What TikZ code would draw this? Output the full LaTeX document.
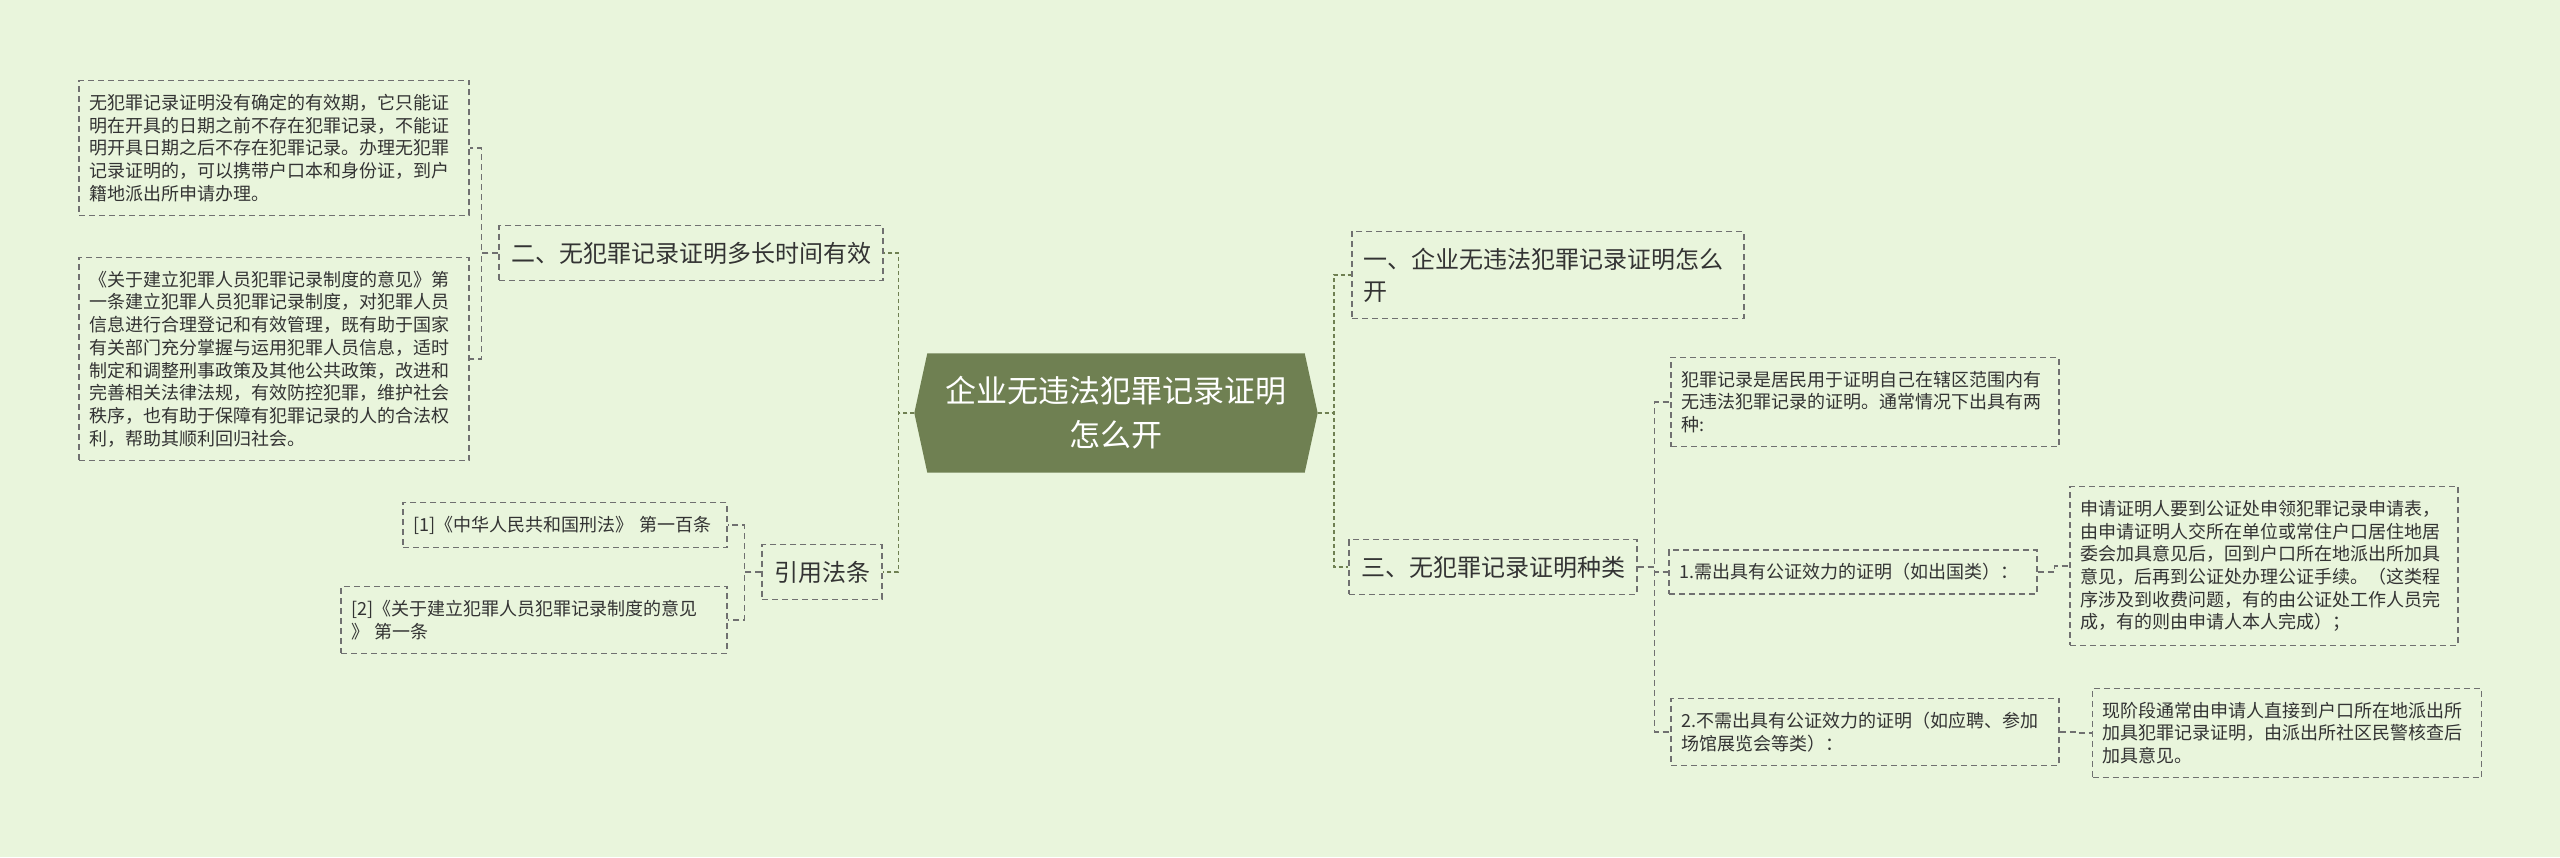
\documentclass[tikz,border=0pt]{standalone}
\usepackage{fontspec}
\setmainfont{Noto Sans CJK SC}
\usetikzlibrary{positioning}
\definecolor{MapBg}{RGB}{233,245,220}
\definecolor{HubGreen}{RGB}{111,128,82}
\definecolor{BoxGray}{RGB}{112,112,112}
\definecolor{InkGray}{RGB}{51,51,51}
\pgfdeclarelayer{bg}
\pgfsetlayers{bg,main}

\begin{document}
\begin{tikzpicture}[x=1pt, y=-1pt,
	box/.style={draw=BoxGray, line width=1.2pt, dash pattern=on 6pt off 4pt, text=InkGray, align=left, inner xsep=10pt, inner ysep=13.5pt},
	leaf/.style={box, font=\fontsize{18}{22.7}\selectfont, text width=370pt},
	head/.style={box, font=\fontsize{24}{32}\selectfont, inner xsep=12pt, inner ysep=16pt},
	hubnode/.style={text=white, align=center, font=\fontsize{31}{44}\selectfont, minimum width=403pt, minimum height=119pt, inner sep=0pt},
	lk/.style={BoxGray, line width=1.2pt, dash pattern=on 6pt off 4pt},
	tk/.style={HubGreen, line width=1.6pt, dash pattern=on 4pt off 3pt}]

	\useasboundingbox (0,0) rectangle (2560,857);
	\begin{pgfonlayer}{bg}
		\fill[MapBg] (0,0) rectangle (2560,857);
	\end{pgfonlayer}

	% centro
	\node[hubnode] (hub) at (1116,413) {企业无违法犯罪记录证明\\怎么开};
	\begin{pgfonlayer}{bg}
		\fill[HubGreen] (hub.west) -- ([xshift=13pt]hub.north west) -- ([xshift=-13pt]hub.north east)
			-- (hub.east) -- ([xshift=-13pt]hub.south east) -- ([xshift=13pt]hub.south west) -- cycle;
	\end{pgfonlayer}

	% izquierda
	\node[head] (twoT) at (691,253) {二、无犯罪记录证明多长时间有效};
	\node[head] (refT) at (822,572) {引用法条};
	\node[leaf] (valid1) at (274,148) {无犯罪记录证明没有确定的有效期，它只能证\\明在开具的日期之前不存在犯罪记录，不能证\\明开具日期之后不存在犯罪记录。办理无犯罪\\记录证明的，可以携带户口本和身份证，到户\\籍地派出所申请办理。};
	\node[leaf] (valid2) at (274,359) {《关于建立犯罪人员犯罪记录制度的意见》第\\一条建立犯罪人员犯罪记录制度，对犯罪人员\\信息进行合理登记和有效管理，既有助于国家\\有关部门充分掌握与运用犯罪人员信息，适时\\制定和调整刑事政策及其他公共政策，改进和\\完善相关法律法规，有效防控犯罪，维护社会\\秩序，也有助于保障有犯罪记录的人的合法权\\利，帮助其顺利回归社会。};
	\node[leaf, text width=304pt] (ref1) at (565,525) {[1]《中华人民共和国刑法》 第一百条};
	\node[leaf, text width=366pt] (ref2) at (534,620) {[2]《关于建立犯罪人员犯罪记录制度的意见\\》 第一条};

	% derecha
	\node[head, text width=370pt, inner xsep=11pt] (oneT) at (1548,275) {一、企业无违法犯罪记录证明怎么\\开};
	\node[head] (threeT) at (1493,567) {三、无犯罪记录证明种类};
	\node[leaf, text width=368pt] (kind0) at (1865,402) {犯罪记录是居民用于证明自己在辖区范围内有\\无违法犯罪记录的证明。通常情况下出具有两\\种:};
	\node[leaf, text width=348pt] (kind1) at (1853,572) {1.需出具有公证效力的证明（如出国类）：};
	\node[leaf, text width=368pt] (kind2) at (1865,732) {2.不需出具有公证效力的证明（如应聘、参加\\场馆展览会等类）：};
	\node[leaf, text width=368pt] (proc1) at (2264,566) {申请证明人要到公证处申领犯罪记录申请表，\\由申请证明人交所在单位或常住户口居住地居\\委会加具意见后，回到户口所在地派出所加具\\意见，后再到公证处办理公证手续。（这类程\\序涉及到收费问题，有的由公证处工作人员完\\成，有的则由申请人本人完成）；};
	\node[leaf, text width=369pt] (proc2) at (2287,733) {现阶段通常由申请人直接到户口所在地派出所\\加具犯罪记录证明，由派出所社区民警核查后\\加具意见。};

	% conectores
	\foreach \c in {twoT,refT}
		\draw[tk] (hub.west) -- ++(-16,0) |- (\c.east);
	\foreach \c in {oneT,threeT}
		\draw[tk] (hub.east) -- ++(16,0) |- (\c.west);
	\foreach \p/\c in {twoT/valid1, twoT/valid2, refT/ref1, refT/ref2}
		\draw[lk] (\p.west) -- ++(-17,0) |- (\c.east);
	\foreach \p/\c in {threeT/kind0, threeT/kind1, threeT/kind2, kind1/proc1, kind2/proc2}
		\draw[lk] (\p.east) -- ++(17,0) |- (\c.west);
\end{tikzpicture}
\end{document}
